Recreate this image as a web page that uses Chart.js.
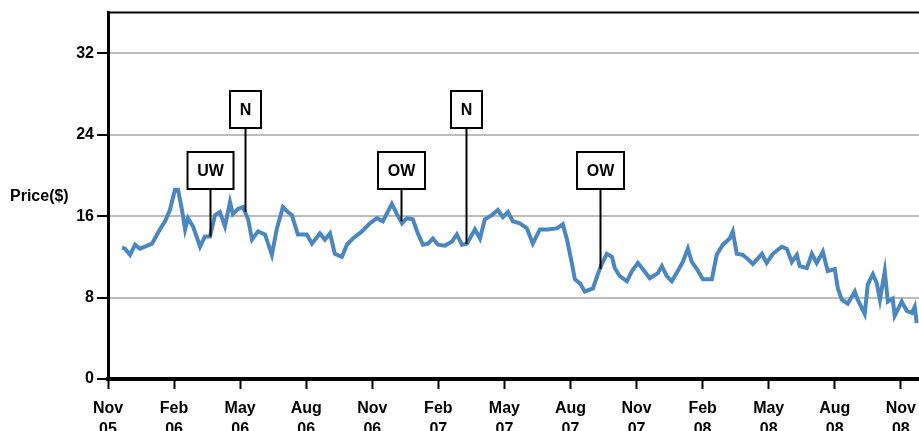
<!DOCTYPE html>
<html>
<head>
<meta charset="utf-8">
<title>Price</title>
<script src="https://cdn.jsdelivr.net/npm/chart.js@4.4.1/dist/chart.umd.min.js"></script>
<style>
  html, body { margin: 0; padding: 0; background: #fff; overflow: hidden; }
  #wrap { width: 925px; height: 445px; }
</style>
</head>
<body>
<div id="wrap"><canvas id="price-chart" width="925" height="445"></canvas></div>
<script>
  // months counted from Nov 2005
  var MONTHS = [
    0.64, 0.77, 1.00, 1.23, 1.45, 1.68, 2.00, 2.13, 2.36, 2.59, 2.81, 3.04, 3.18, 3.36, 3.50,
    3.63, 3.86, 4.18, 4.40, 4.63, 4.86, 5.08, 5.31, 5.54, 5.67, 5.90, 6.13, 6.36, 6.54, 6.81,
    7.13, 7.44, 7.67, 7.94, 8.17, 8.35, 8.62, 9.03, 9.26, 9.62, 9.85, 10.08, 10.30, 10.62, 10.85,
    11.12, 11.53, 11.89, 12.21, 12.48, 12.89, 13.12, 13.35, 13.57, 13.84, 14.07, 14.30, 14.53, 14.75, 14.98,
    15.30, 15.62, 15.84, 16.07, 16.30, 16.66, 16.89, 17.11, 17.43, 17.70, 17.93, 18.16, 18.38, 18.70, 19.02,
    19.29, 19.61, 19.97, 20.38, 20.65, 20.84, 21.06, 21.20, 21.43, 21.65, 22.02, 22.24, 22.42, 22.65, 22.88,
    23.01, 23.24, 23.56, 23.79, 24.06, 24.28, 24.60, 24.97, 25.15, 25.37, 25.60, 25.87, 26.10, 26.33, 26.51,
    26.74, 27.01, 27.42, 27.64, 27.92, 28.23, 28.37, 28.55, 28.82, 29.05, 29.28, 29.69, 29.91, 30.19, 30.59,
    30.82, 31.05, 31.28, 31.41, 31.73, 31.96, 32.18, 32.46, 32.68, 33.00, 33.14, 33.32, 33.59, 33.91, 34.04,
    34.36, 34.50, 34.73, 34.91, 35.05, 35.27, 35.41, 35.63, 35.72, 36.04, 36.27, 36.50, 36.63, 36.72
  ];

  var PRICES = [
    12.9, 12.8, 12.2, 13.2, 12.8, 13.0, 13.3, 13.8, 14.7, 15.5, 16.6, 18.6, 18.6, 16.6, 14.7,
    15.8, 15.0, 13.0, 14.0, 14.0, 16.1, 16.4, 15.0, 17.4, 16.2, 16.7, 16.9, 15.7, 13.7, 14.5,
    14.2, 12.2, 14.8, 16.9, 16.4, 16.1, 14.2, 14.2, 13.3, 14.3, 13.7, 14.3, 12.3, 12.0, 13.2,
    13.8, 14.5, 15.3, 15.8, 15.5, 17.2, 16.2, 15.3, 15.8, 15.7, 14.3, 13.2, 13.3, 13.8, 13.2,
    13.1, 13.5, 14.2, 13.2, 13.3, 14.7, 13.8, 15.7, 16.1, 16.6, 15.9, 16.4, 15.5, 15.3, 14.8,
    13.3, 14.7, 14.7, 14.8, 15.2, 13.7, 11.4, 9.8, 9.4, 8.6, 8.9, 10.3, 11.3, 12.3, 12.0,
    10.9, 10.1, 9.6, 10.6, 11.4, 10.8, 9.9, 10.4, 11.1, 10.1, 9.6, 10.6, 11.5, 12.8, 11.5,
    10.8, 9.8, 9.8, 12.2, 13.2, 13.8, 14.5, 12.3, 12.2, 11.8, 11.3, 12.3, 11.4, 12.3, 13.0,
    12.8, 11.5, 12.2, 11.1, 10.9, 12.3, 11.4, 12.5, 10.6, 10.8, 8.9, 7.8, 7.4, 8.6, 7.8,
    6.4, 9.3, 10.3, 9.4, 7.8, 10.6, 7.6, 7.9, 6.2, 7.6, 6.7, 6.5, 7.1, 5.5
  ];

  var TICK_MONTHS = [0, 3, 6, 9, 12, 15, 18, 21, 24, 27, 30, 33, 36];
  var TICK_LABELS = [
    ['Nov', '05'], ['Feb', '06'], ['May', '06'], ['Aug', '06'], ['Nov', '06'],
    ['Feb', '07'], ['May', '07'], ['Aug', '07'], ['Nov', '07'], ['Feb', '08'],
    ['May', '08'], ['Aug', '08'], ['Nov', '08']
  ];
  var PRICE_TICKS = [0, 8, 16, 24, 32];

  // rating calls: label, month, level of the box bottom
  var NOTE_LABELS = ['UW', 'N', 'OW', 'N', 'OW'];
  var NOTE_MONTHS = [4.63, 6.22, 13.30, 16.25, 22.33];
  var NOTE_LEVELS = [18.7, 24.7, 18.7, 24.7, 18.7];

  var FONT = '"Liberation Sans", Arial, sans-serif';
  var LINE_BLUE = '#4a87c1';

  function priceAt(m) {
    for (var i = 1; i < MONTHS.length; i++) {
      if (MONTHS[i] >= m) {
        var t = (m - MONTHS[i - 1]) / (MONTHS[i] - MONTHS[i - 1]);
        return PRICES[i - 1] + t * (PRICES[i] - PRICES[i - 1]);
      }
    }
    return PRICES[PRICES.length - 1];
  }

  var points = MONTHS.map(function (m, i) { return { x: m, y: PRICES[i] }; });

  var framePlugin = {
    id: 'frame',
    afterDraw: function (chart) {
      var ctx = chart.ctx;
      var area = chart.chartArea;
      var xs = chart.scales.x;
      var ys = chart.scales.y;

      ctx.save();
      // top edge of the frame
      ctx.strokeStyle = '#000';
      ctx.lineWidth = 2;
      ctx.beginPath();
      ctx.moveTo(area.left - 1, area.top);
      ctx.lineTo(area.right, area.top);
      ctx.stroke();

      // y title, written flat beside the axis
      ctx.fillStyle = '#000';
      ctx.font = 'bold 16px ' + FONT;
      ctx.textAlign = 'left';
      ctx.textBaseline = 'middle';
      ctx.fillText('Price($)', 10, ys.getPixelForValue(17.9));

      // call-out boxes
      ctx.font = 'bold 16px ' + FONT;
      ctx.textAlign = 'center';
      NOTE_LABELS.forEach(function (label, i) {
        var px = Math.round(xs.getPixelForValue(NOTE_MONTHS[i])) + 0.5;
        var tip = ys.getPixelForValue(priceAt(NOTE_MONTHS[i]));
        var bottom = Math.round(ys.getPixelForValue(NOTE_LEVELS[i]));
        var w = Math.round(ctx.measureText(label).width + 19);
        var h = 37;

        ctx.lineWidth = 2;
        ctx.strokeStyle = '#000';
        ctx.beginPath();
        ctx.moveTo(px, bottom);
        ctx.lineTo(px, tip);
        ctx.stroke();

        ctx.fillStyle = '#fff';
        ctx.fillRect(px - w / 2, bottom - h, w, h);
        ctx.strokeRect(px - w / 2, bottom - h, w, h);
        ctx.fillStyle = '#000';
        ctx.fillText(label, px, bottom - h / 2 + 1);
      });
      ctx.restore();
    }
  };

  new Chart(document.getElementById('price-chart'), {
    type: 'line',
    data: {
      datasets: [{
        data: points,
        borderColor: LINE_BLUE,
        borderWidth: 4,
        pointRadius: 0,
        tension: 0,
        fill: false
      }]
    },
    options: {
      responsive: false,
      animation: false,
      events: [],
      layout: { padding: { top: 8, right: 2, left: 0, bottom: 0 } },
      plugins: { legend: { display: false }, tooltip: { enabled: false } },
      scales: {
        x: {
          type: 'linear',
          min: 0,
          max: 37,
          afterBuildTicks: function (scale) {
            scale.ticks = TICK_MONTHS.map(function (v) { return { value: v }; });
          },
          afterFit: function (scale) { scale.height = 66; },
          ticks: {
            autoSkip: false,
            maxRotation: 0,
            padding: 9,
            color: '#000',
            font: { family: FONT, size: 16, weight: 'bold', lineHeight: 1.3 },
            callback: function (v) {
              var i = TICK_MONTHS.indexOf(v);
              return i < 0 ? '' : TICK_LABELS[i];
            }
          },
          grid: {
            drawOnChartArea: false,
            drawTicks: true,
            tickLength: 10,
            tickWidth: 2,
            tickColor: '#000'
          },
          border: { display: true, color: '#000', width: 4 }
        },
        y: {
          min: 0,
          max: 36,
          afterBuildTicks: function (scale) {
            scale.ticks = PRICE_TICKS.map(function (v) { return { value: v }; });
          },
          afterFit: function (scale) { scale.width = 108; },
          ticks: {
            padding: 3,
            color: '#000',
            font: { family: FONT, size: 16, weight: 'bold' }
          },
          grid: {
            color: function (c) { return c.tick && c.tick.value === 0 ? 'rgba(0,0,0,0)' : '#bdbdbd'; },
            lineWidth: 2,
            drawTicks: true,
            tickLength: 11,
            tickWidth: 2,
            tickColor: '#000'
          },
          border: { display: true, color: '#000', width: 3 }
        }
      }
    },
    plugins: [framePlugin]
  });
</script>
</body>
</html>
